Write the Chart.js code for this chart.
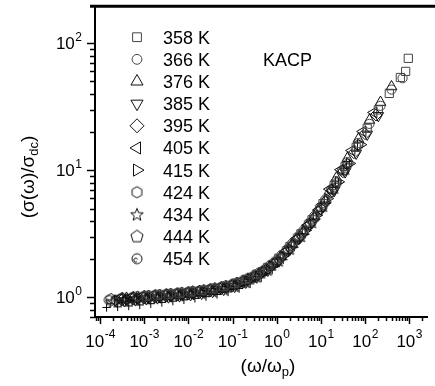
<!DOCTYPE html>
<html>
<head>
<meta charset="utf-8">
<script src="https://cdn.jsdelivr.net/npm/chart.js@4.4.0/dist/chart.umd.min.js"></script>
<style>
  body { margin: 0; background: #fff; }
  canvas { display: block; }
</style>
</head>
<body>
<canvas id="kacpChart" width="435" height="386"></canvas>
<script>
// temperatures shown in the legend
const temperatures = ['358 K', '366 K', '376 K', '385 K', '395 K', '405 K', '415 K', '424 K', '434 K', '444 K', '454 K'];

// scaled frequency (omega / omega_p) and normalised conductivity for each temperature
const x358 = [1.12e-3, 2.0e-3, 3.55e-3, 6.31e-3, 0.0112, 0.02, 0.0355, 0.0631, 0.112, 0.2, 0.355, 0.631, 1.12, 2.0, 3.55, 6.31, 11.2, 20, 35.5, 63.1, 112, 200, 355, 631, 832, 955];
const y358 = [1.022, 1.040, 1.058, 1.079, 1.103, 1.130, 1.167, 1.213, 1.281, 1.380, 1.517, 1.718, 2.028, 2.512, 3.162, 4.074, 5.458, 7.586, 10.72, 15.14, 21.38, 29.85, 40.27, 53.7, 60.0, 76.0];

const x366 = [7.08e-4, 1.26e-3, 2.24e-3, 3.98e-3, 7.08e-3, 0.0126, 0.0224, 0.0398, 0.0708, 0.126, 0.224, 0.398, 0.708, 1.26, 2.24, 3.98, 7.08, 12.6, 22.4, 39.8, 70.8, 126, 224, 398, 708];
const y366 = [1.020, 1.038, 1.056, 1.074, 1.096, 1.122, 1.148, 1.189, 1.240, 1.312, 1.419, 1.567, 1.795, 2.138, 2.661, 3.350, 4.365, 5.888, 8.22, 11.61, 16.41, 23.17, 32.14, 43.15, 53.0];

const x376 = [3.98e-4, 7.08e-4, 1.26e-3, 2.24e-3, 3.98e-3, 7.08e-3, 0.0126, 0.0224, 0.0398, 0.0708, 0.126, 0.224, 0.398, 0.708, 1.26, 2.24, 3.98, 7.08, 12.6, 22.4, 39.8, 70.8, 126, 224, 398];
const y376 = [0.986, 1.003, 1.021, 1.039, 1.057, 1.079, 1.104, 1.130, 1.169, 1.220, 1.291, 1.396, 1.542, 1.766, 2.104, 2.618, 3.296, 4.295, 5.79, 8.7, 12.4, 17.6, 24.8, 34.3, 45.5];

const x385 = [3.55e-4, 6.31e-4, 1.12e-3, 2.0e-3, 3.55e-3, 6.31e-3, 0.0112, 0.02, 0.0355, 0.0631, 0.112, 0.2, 0.355, 0.631, 1.12, 2.0, 3.55, 6.31, 11.2, 20, 35.5, 63.1, 112, 200];
const y385 = [0.939, 0.955, 0.972, 0.989, 1.006, 1.026, 1.048, 1.074, 1.109, 1.153, 1.218, 1.312, 1.442, 1.633, 1.928, 2.388, 3.006, 3.873, 5.19, 6.9, 9.7, 13.6, 19.2, 26.9];

const x395 = [3.16e-4, 5.62e-4, 1e-3, 1.78e-3, 3.16e-3, 5.62e-3, 0.01, 0.0178, 0.0316, 0.0562, 0.1, 0.178, 0.316, 0.562, 1, 1.78, 3.16, 5.62, 10, 17.8, 31.6, 56.2, 100, 178];
const y395 = [0.957, 0.974, 0.991, 1.008, 1.026, 1.045, 1.067, 1.091, 1.127, 1.171, 1.230, 1.318, 1.445, 1.629, 1.897, 2.333, 2.938, 3.758, 4.989, 6.887, 9.73, 13.74, 19.41, 27.23];

const x405 = [2.82e-4, 5.01e-4, 8.91e-4, 1.58e-3, 2.82e-3, 5.01e-3, 8.91e-3, 0.0158, 0.0282, 0.0501, 0.0891, 0.158, 0.282, 0.501, 0.891, 1.58, 2.82, 5.01, 8.91, 15.8, 28.2, 50.1, 89.1, 158];
const y405 = [0.985, 1.002, 1.020, 1.038, 1.056, 1.075, 1.096, 1.122, 1.156, 1.199, 1.257, 1.340, 1.466, 1.637, 1.897, 2.301, 2.897, 3.690, 4.864, 7.1, 10.1, 14.3, 20.2, 28.5];

const x415 = [2.51e-4, 4.47e-4, 7.94e-4, 1.41e-3, 2.51e-3, 4.47e-3, 7.94e-3, 0.0141, 0.0251, 0.0447, 0.0794, 0.141, 0.251, 0.447, 0.794, 1.41, 2.51, 4.47, 7.94, 14.1, 25.1, 44.7, 79.4];
const y415 = [0.944, 0.960, 0.977, 0.994, 1.012, 1.030, 1.051, 1.073, 1.104, 1.147, 1.197, 1.271, 1.380, 1.535, 1.766, 2.123, 2.661, 3.365, 4.416, 5.98, 8.1, 11.3, 15.9];

const x424 = [2.24e-4, 3.98e-4, 7.08e-4, 1.26e-3, 2.24e-3, 3.98e-3, 7.08e-3, 0.0126, 0.0224, 0.0398, 0.0708, 0.126, 0.224, 0.398, 0.708, 1.26, 2.24, 3.98, 7.08, 12.6, 22.4, 39.8, 70.8];
const y424 = [0.952, 0.968, 0.985, 1.002, 1.020, 1.038, 1.059, 1.084, 1.109, 1.148, 1.198, 1.268, 1.371, 1.514, 1.734, 2.065, 2.570, 3.236, 4.217, 5.69, 7.943, 11.22, 15.85];

const x434 = [2.0e-4, 3.55e-4, 6.31e-4, 1.12e-3, 2.0e-3, 3.55e-3, 6.31e-3, 0.0112, 0.02, 0.0355, 0.0631, 0.112, 0.2, 0.355, 0.631, 1.12, 2.0, 3.55, 6.31, 11.2, 20.0, 35.5];
const y434 = [0.927, 0.943, 0.959, 0.976, 0.993, 1.010, 1.030, 1.053, 1.079, 1.114, 1.159, 1.223, 1.318, 1.449, 1.641, 1.936, 2.399, 3.020, 3.890, 5.21, 7.244, 10.23];

const x444 = [1.78e-4, 3.16e-4, 5.62e-4, 1e-3, 1.78e-3, 3.16e-3, 5.62e-3, 0.01, 0.0178, 0.0316, 0.0562, 0.1, 0.178, 0.316, 0.562, 1, 1.78, 3.16, 5.62, 10, 17.8, 31.6];
const y444 = [0.967, 0.984, 1.001, 1.019, 1.036, 1.054, 1.074, 1.096, 1.122, 1.159, 1.204, 1.265, 1.355, 1.486, 1.675, 1.950, 2.399, 3.020, 3.864, 5.129, 7.079, 10.0];

const x454 = [1.58e-4, 2.82e-4, 5.01e-4, 8.91e-4, 1.58e-3, 2.82e-3, 5.01e-3, 8.91e-3, 0.0158, 0.0282, 0.0501, 0.0891, 0.158, 0.282, 0.501, 0.891, 1.58, 2.82, 5.01, 8.91, 15.8];
const y454 = [0.953, 0.969, 0.986, 1.003, 1.021, 1.039, 1.058, 1.079, 1.104, 1.138, 1.180, 1.237, 1.318, 1.442, 1.611, 1.866, 2.265, 2.851, 3.631, 4.786, 6.53];

// the "+" points along the lower edge of the band (not in the legend)
const xCross = [1.41e-4, 2.51e-4, 4.47e-4, 7.94e-4, 1.41e-3, 2.51e-3, 4.47e-3, 7.94e-3, 0.0141, 0.0251, 0.0447, 0.0794, 0.141, 0.251, 0.447, 0.794, 1.41, 2.51, 4.47, 7.94, 14.1, 25.1, 44.7];
const yCross = [0.832, 0.841, 0.855, 0.871, 0.891, 0.912, 0.933, 0.955, 0.982, 1.012, 1.053, 1.102, 1.172, 1.276, 1.422, 1.641, 1.977, 2.483, 3.148, 4.140, 5.623, 7.925, 11.22];

// axis ticks (powers of ten)
const xTickExps = [-4, -3, -2, -1, 0, 1, 2, 3];
const yTickExps = [0, 1, 2];

const FONT = '"Liberation Sans", Arial, Helvetica, sans-serif';
const INK = '#111';

/**
 * Small canvases for the marker shapes Chart.js does not have.
 */
function makeMarker(size, draw) {
    const c = document.createElement('canvas');
    c.width = size;
    c.height = size;
    const g = c.getContext('2d');
    g.strokeStyle = INK;
    g.lineWidth = 1;
    draw(g, size / 2);
    return c;
}
function polygon(g, c, n, r) {
    g.beginPath();
    for (let k = 0; k < n; k++) {
        const a = 2 * Math.PI * k / n;
        g.lineTo(c + r * Math.sin(a), c - r * Math.cos(a));
    }
    g.closePath();
    g.stroke();
}
function star(g, c, r) {
    g.beginPath();
    for (let k = 0; k < 10; k++) {
        const a = Math.PI * k / 5;
        const rr = k % 2 === 0 ? r : r * 0.42;
        g.lineTo(c + rr * Math.sin(a), c + 0.5 - rr * Math.cos(a));
    }
    g.closePath();
    g.stroke();
}
function dotCircle(g, c, r) {
    g.beginPath();
    g.arc(c, c, r, 0, 2 * Math.PI);
    g.stroke();
    g.beginPath();
    g.arc(c - r * 0.25, c + r * 0.25, r * 0.38, 0.3 * Math.PI, 1.9 * Math.PI);
    g.stroke();
}
const hexagonMarker = makeMarker(13, (g, c) => polygon(g, c, 6, 5));
const hexagonLegend = makeMarker(15, (g, c) => polygon(g, c, 6, 5.6));
const pentagonMarker = makeMarker(14, (g, c) => polygon(g, c, 5, 5.7));
const pentagonLegend = makeMarker(16, (g, c) => polygon(g, c, 5, 6.4));
const starMarker = makeMarker(15, (g, c) => star(g, c, 6.2));
const starLegend = makeMarker(16, (g, c) => star(g, c, 6.6));
const dotCircleMarker = makeMarker(13, (g, c) => dotCircle(g, c, 4.6));
const dotCircleLegend = makeMarker(14, (g, c) => dotCircle(g, c, 5));

function points(xs, ys) {
    return xs.map((x, i) => ({x: x, y: ys[i]}));
}
function series(label, xs, ys, style, radius, rotation, legendStyle, legendRadius, color) {
    return {
        label: label,
        data: points(xs, ys),
        pointStyle: style,
        pointRadius: radius,
        pointRotation: rotation,
        pointBorderColor: color || INK,
        pointBackgroundColor: 'rgba(0,0,0,0)',
        pointBorderWidth: 1,
        pointHoverRadius: radius,
        showLine: false,
        legendStyle: legendStyle,
        legendRadius: legendRadius
    };
}

const datasets = [
    series(temperatures[0], x358, y358, 'rect', 5.8, 0, 'rect', 6.2, '#444'),
    series(temperatures[1], x366, y366, 'circle', 4.6, 0, 'circle', 4.9, '#444'),
    series(temperatures[2], x376, y376, 'triangle', 6.2, 0, 'triangle', 7),
    series(temperatures[3], x385, y385, 'triangle', 6.2, 180, 'triangle', 7),
    series(temperatures[4], x395, y395, 'rectRot', 6, 0, 'rectRot', 7),
    series(temperatures[5], x405, y405, 'triangle', 6.2, 270, 'triangle', 7),
    series(temperatures[6], x415, y415, 'triangle', 6.2, 90, 'triangle', 7),
    series(temperatures[7], x424, y424, hexagonMarker, 5, 0, hexagonLegend, 5.6),
    series(temperatures[8], x434, y434, starMarker, 6, 0, starLegend, 6.6),
    series(temperatures[9], x444, y444, pentagonMarker, 5.7, 0, pentagonLegend, 6.4),
    series(temperatures[10], x454, y454, dotCircleMarker, 4.6, 0, dotCircleLegend, 5),
    series('', xCross, yCross, 'cross', 4.2, 0, null, 0, '#000')
];

/**
 * Frame, tick marks, tick labels and axis titles.
 */
const framePlugin = {
    id: 'frame',
    afterDraw(chart) {
        const ctx = chart.ctx;
        const area = chart.chartArea;
        const xs = chart.scales.x;
        const ys = chart.scales.y;
        ctx.save();
        ctx.strokeStyle = '#000';

        // thick top border
        ctx.lineWidth = 3;
        ctx.beginPath();
        ctx.moveTo(area.left - 5, area.top - 1);
        ctx.lineTo(chart.width, area.top - 1);
        ctx.stroke();

        // tick marks: long at powers of ten, short in between
        ctx.lineWidth = 1.5;
        for (let e = -5; e <= 3; e++) {
            for (let m = 1; m <= 9; m++) {
                const v = m * Math.pow(10, e);
                if (v >= xs.min && v <= xs.max) {
                    const px = Math.round(xs.getPixelForValue(v)) + 0.5;
                    ctx.beginPath();
                    ctx.moveTo(px, area.bottom);
                    ctx.lineTo(px, area.bottom + (m === 1 ? 7 : 4));
                    ctx.stroke();
                }
                if (v >= ys.min && v <= ys.max) {
                    const py = Math.round(ys.getPixelForValue(v)) + 0.5;
                    ctx.beginPath();
                    ctx.moveTo(area.left, py);
                    ctx.lineTo(area.left - (m === 1 ? 8 : 5), py);
                    ctx.stroke();
                }
            }
        }

        // tick labels as 10 with a raised exponent
        ctx.fillStyle = '#000';
        ctx.textBaseline = 'alphabetic';
        xTickExps.forEach(e => {
            const px = xs.getPixelForValue(Math.pow(10, e));
            ctx.font = '17px ' + FONT;
            const wBase = ctx.measureText('10').width;
            ctx.font = '12px ' + FONT;
            const wExp = ctx.measureText(String(e)).width;
            const start = px - (wBase + wExp) / 2;
            ctx.font = '17px ' + FONT;
            ctx.textAlign = 'left';
            ctx.fillText('10', start, area.bottom + 30);
            ctx.font = '12px ' + FONT;
            ctx.fillText(String(e), start + wBase + 0.5, area.bottom + 21);
        });
        yTickExps.forEach(e => {
            const py = ys.getPixelForValue(Math.pow(10, e));
            ctx.font = '12px ' + FONT;
            const wExp = ctx.measureText(String(e)).width;
            const right = area.left - 13;
            ctx.textAlign = 'left';
            ctx.fillText(String(e), right - wExp, py - 2);
            ctx.font = '17px ' + FONT;
            ctx.textAlign = 'right';
            ctx.fillText('10', right - wExp - 0.5, py + 6);
        });

        // x title (omega/omega_p)
        drawSubText(ctx, [['(ω/ω', 19, 0], ['p', 13, 4], [')', 19, 0]], 268, 372);

        // y title (sigma(omega)/sigma_dc), rotated
        ctx.save();
        ctx.translate(34, 177);
        ctx.rotate(-Math.PI / 2);
        drawSubText(ctx, [['(σ(ω)/σ', 19, 0], ['dc', 13, 4], [')', 19, 0]], 0, 0);
        ctx.restore();

        ctx.restore();
    }
};

// draws pieces of text centred at (cx, baseline); each piece is [text, size, drop]
function drawSubText(ctx, parts, cx, baseline) {
    let total = 0;
    parts.forEach(p => {
        ctx.font = p[1] + 'px ' + FONT;
        total += ctx.measureText(p[0]).width;
    });
    let x = cx - total / 2;
    ctx.textAlign = 'left';
    ctx.textBaseline = 'alphabetic';
    ctx.fillStyle = '#000';
    parts.forEach(p => {
        ctx.font = p[1] + 'px ' + FONT;
        ctx.fillText(p[0], x, baseline + p[2]);
        x += ctx.measureText(p[0]).width;
    });
}

/**
 * Legend inside the plot, plus the sample name.
 */
const legendPlugin = {
    id: 'insideLegend',
    afterDatasetsDraw(chart) {
        const ctx = chart.ctx;
        const area = chart.chartArea;
        const markerX = area.left + 42;
        const textX = area.left + 68;
        const firstRow = area.top + 30;
        const rowGap = 22.15;
        ctx.save();
        chart.data.datasets.forEach((ds, i) => {
            if (!ds.label) return;
            const y = firstRow + rowGap * i;
            ctx.strokeStyle = ds.pointBorderColor;
            ctx.fillStyle = 'rgba(0,0,0,0)';
            ctx.lineWidth = 1;
            Chart.helpers.drawPoint(ctx, {
                pointStyle: ds.legendStyle,
                rotation: ds.pointRotation,
                radius: ds.legendRadius,
                borderWidth: 1
            }, markerX, y);
            ctx.fillStyle = '#000';
            ctx.font = '18px ' + FONT;
            ctx.textAlign = 'left';
            ctx.textBaseline = 'alphabetic';
            ctx.fillText(ds.label, textX, y + 6.5);
        });
        ctx.fillText('KACP', area.left + 168, firstRow + rowGap + 6.5);
        ctx.restore();
    }
};

new Chart(document.getElementById('kacpChart').getContext('2d'), {
    type: 'scatter',
    data: {datasets: datasets},
    options: {
        responsive: false,
        animation: false,
        devicePixelRatio: 1,
        layout: {padding: {left: 95, top: 7, right: 0, bottom: 69}},
        plugins: {
            legend: {display: false},
            tooltip: {enabled: false}
        },
        scales: {
            x: {
                type: 'logarithmic',
                min: 7.7e-5,
                max: 2640,
                ticks: {display: false},
                grid: {display: false, drawTicks: false},
                border: {display: true, color: '#000', width: 2}
            },
            y: {
                type: 'logarithmic',
                min: 0.7,
                max: 192,
                ticks: {display: false},
                grid: {display: false, drawTicks: false},
                border: {display: true, color: '#000', width: 2}
            }
        }
    },
    plugins: [legendPlugin, framePlugin]
});
</script>
</body>
</html>
